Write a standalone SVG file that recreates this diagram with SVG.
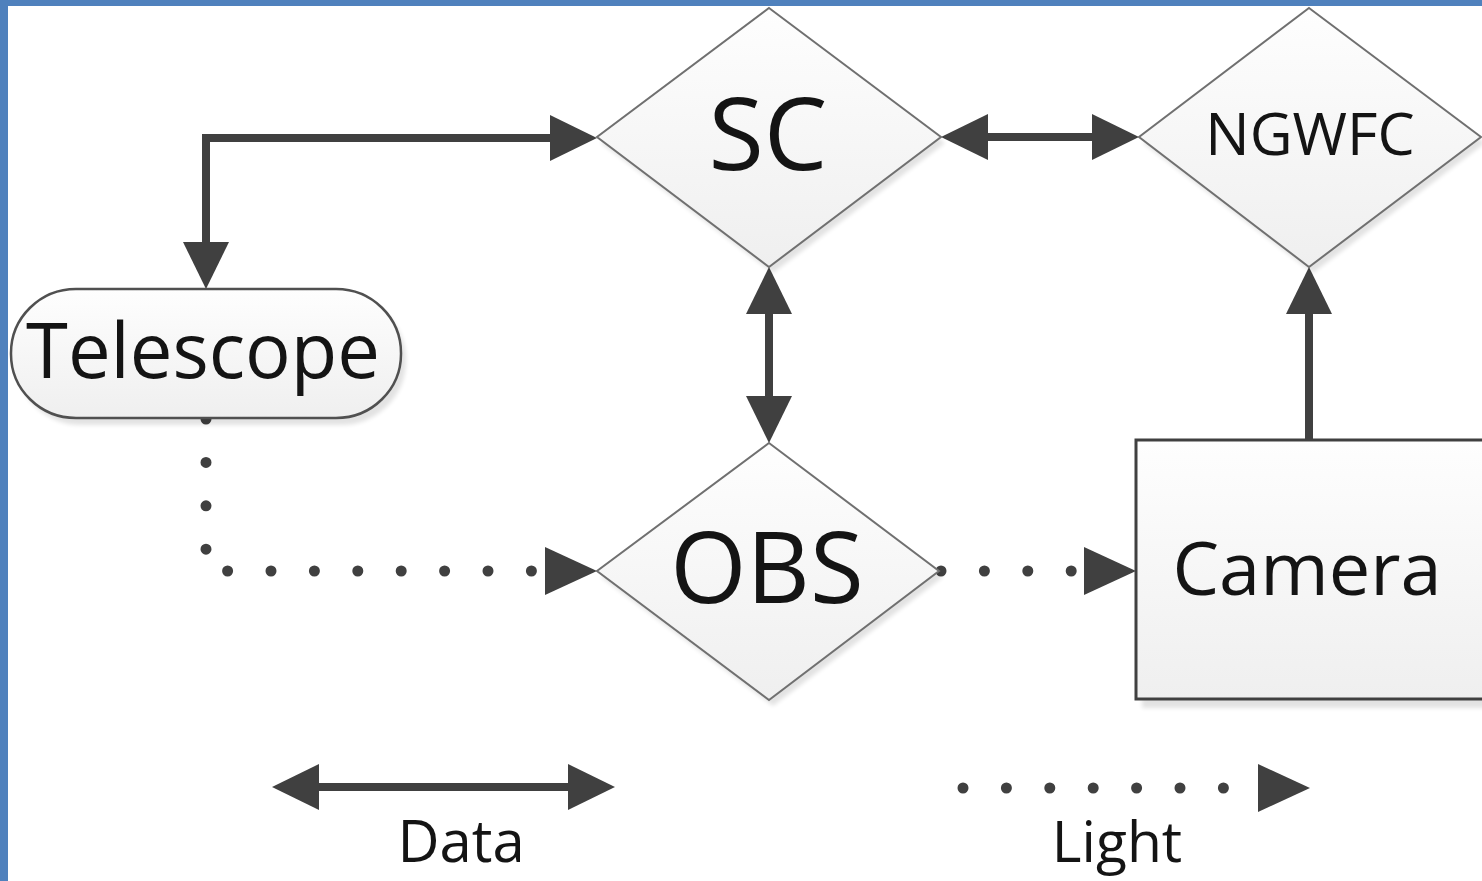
<svg xmlns="http://www.w3.org/2000/svg" width="1482" height="881" viewBox="0 0 1482 881">
  <style>
    .node { fill: url(#nodeFill); }
    .diamond { stroke: #707070; stroke-width: 2; }
    .shadow { fill: #000; opacity: 0.11; filter: url(#soft); }
    .label { font-family: "Open Sans", "Noto Sans", "Liberation Sans", sans-serif; fill: #141414; text-anchor: middle; }
    .data { fill: none; stroke: #404040; stroke-width: 8; stroke-linejoin: miter; }
    .light { fill: none; stroke: #404040; stroke-width: 11; stroke-linecap: round; stroke-dasharray: 0 43.4; }
  </style>
  <defs>
    <linearGradient id="nodeFill" x1="0" y1="0" x2="0" y2="1">
      <stop offset="0" stop-color="#fefefe"/>
      <stop offset="1" stop-color="#efefef"/>
    </linearGradient>
    <filter id="soft" x="-10%" y="-10%" width="120%" height="120%">
      <feGaussianBlur stdDeviation="2"/>
    </filter>
    <!-- solid head for data links; base sits 5px behind the line end -->
    <marker id="head" viewBox="0 0 47 46" markerWidth="47" markerHeight="46" refX="5" refY="23" markerUnits="userSpaceOnUse" orient="auto-start-reverse">
      <path d="M0,0 L47,23 L0,46 Z" fill="#404040"/>
    </marker>
    <!-- head for dotted light paths -->
    <marker id="lightHead" viewBox="0 0 52 48" markerWidth="52" markerHeight="48" refX="0" refY="24" markerUnits="userSpaceOnUse" orient="auto">
      <path d="M0,0 L52,24 L0,48 Z" fill="#404040"/>
    </marker>
  </defs>

  <rect width="1482" height="881" fill="#ffffff"/>
  <!-- frame edges -->
  <rect x="0" y="0" width="1482" height="6" fill="#4f81bd"/>
  <rect x="0" y="0" width="8" height="881" fill="#4f81bd"/>

  <g id="connectors">
    <path class="data" d="M206,247 V138 H555" marker-start="url(#head)" marker-end="url(#head)"/>
    <path class="data" d="M983,137 H1097" marker-start="url(#head)" marker-end="url(#head)"/>
    <path class="data" d="M769,309 V401" marker-start="url(#head)" marker-end="url(#head)"/>
    <path class="data" d="M1309,440 V309" marker-end="url(#head)"/>
    <path class="light" d="M206,419 V571 H545" marker-end="url(#lightHead)"/>
    <path class="light" d="M941,571 H1084" marker-end="url(#lightHead)"/>
  </g>

  <g id="telescope">
    <rect class="shadow" x="16" y="296" width="390" height="129" rx="65" ry="64"/>
    <rect class="node" x="11" y="289" width="390" height="129" rx="65" ry="64" stroke="#505050" stroke-width="2.5"/>
    <text class="label" x="203" y="378" font-size="76">Telescope</text>
  </g>

  <g id="sc">
    <polygon class="shadow" points="773,14 945,143 773,273 601,143"/>
    <polygon class="node diamond" points="769,8 941,137 769,267 597,137"/>
    <text class="label" x="768" y="170" font-size="101">SC</text>
  </g>

  <g id="ngwfc">
    <polygon class="shadow" points="1313,14 1485,143 1313,273 1143,143"/>
    <polygon class="node diamond" points="1309,8 1481,137 1309,267 1139,137"/>
    <text class="label" x="1310" y="155" font-size="59">NGWFC</text>
  </g>

  <g id="obs">
    <polygon class="shadow" points="773,449 943,577 773,706 601,577"/>
    <polygon class="node diamond" points="769,443 939,571 769,700 597,571"/>
    <text class="label" x="767" y="603" font-size="98">OBS</text>
  </g>

  <g id="camera">
    <rect class="shadow" x="1142" y="446" width="350" height="262"/>
    <rect class="node" x="1136" y="440" width="350" height="259" stroke="#404040" stroke-width="3"/>
    <text class="label" x="1307" y="595" font-size="74">Camera</text>
  </g>

  <g id="legend">
    <path class="data" d="M314,787 H573" marker-start="url(#head)" marker-end="url(#head)"/>
    <text class="label" x="461" y="862" font-size="58">Data</text>
    <path class="light" d="M963,788 H1258" marker-end="url(#lightHead)"/>
    <text class="label" x="1117" y="862" font-size="57">Light</text>
  </g>
</svg>
